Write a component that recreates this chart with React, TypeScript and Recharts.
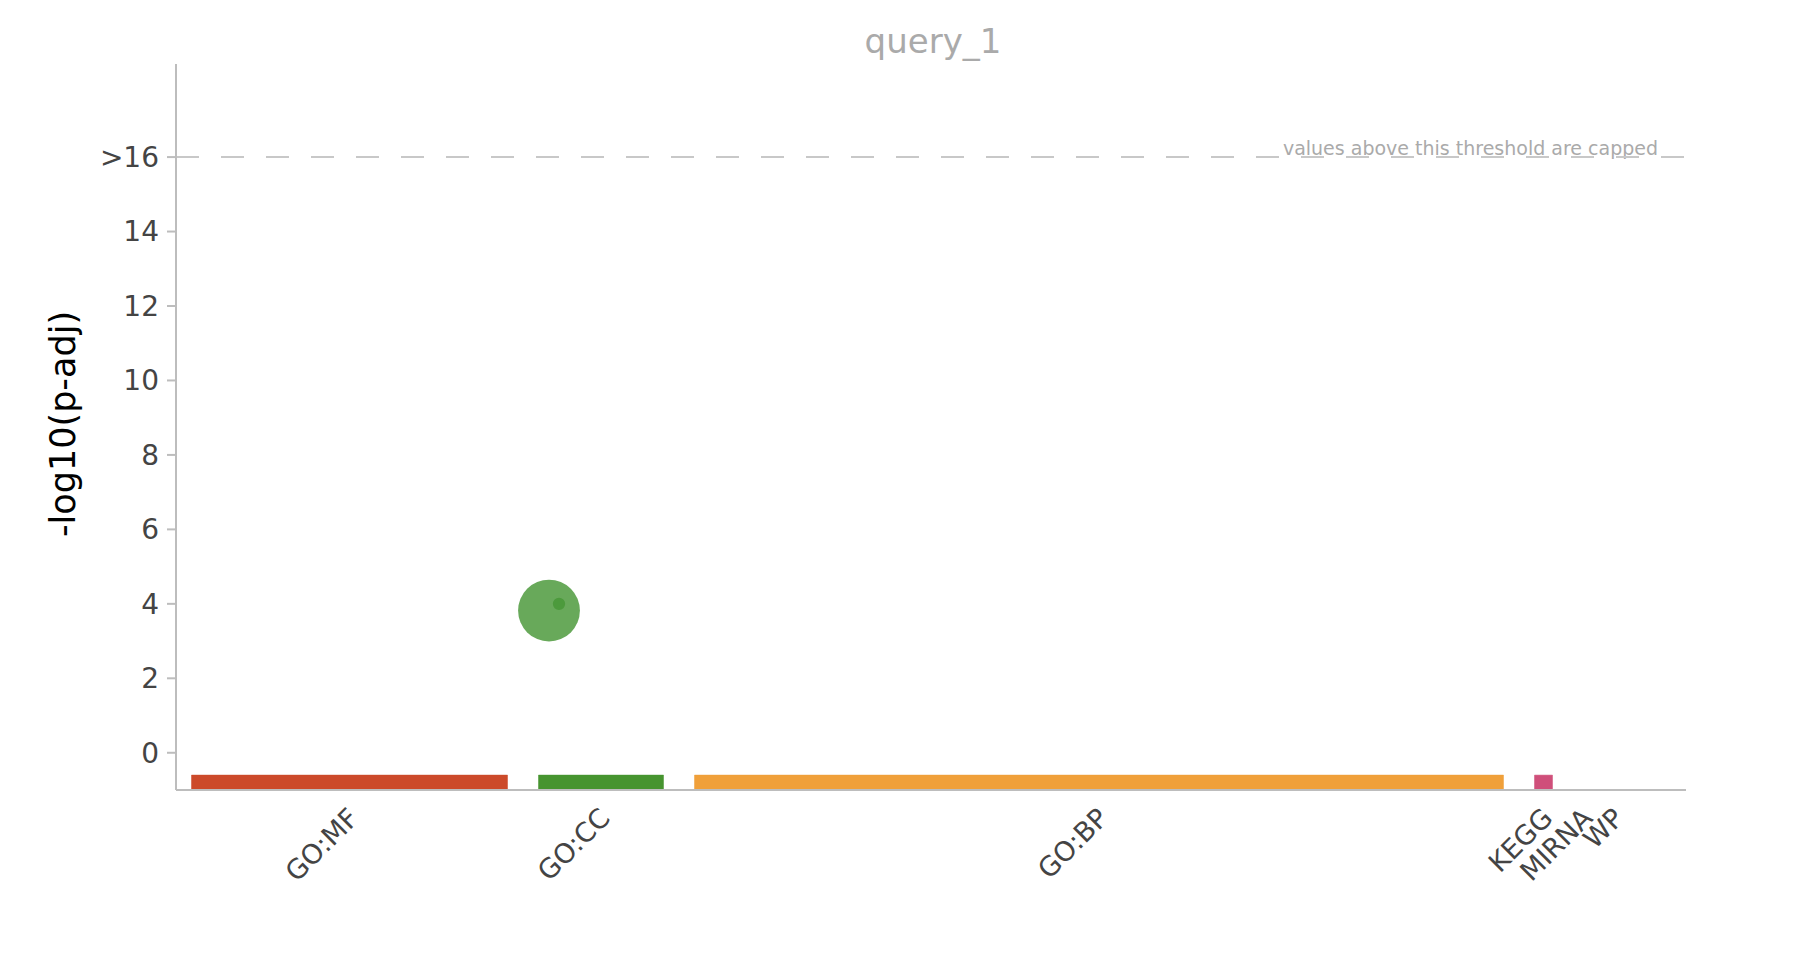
import { ComposedChart, XAxis, YAxis, ZAxis, Scatter, Cell, ReferenceArea, ReferenceLine } from 'recharts';

const FONT = '"DejaVu Sans", Verdana, sans-serif';

// data sources along the x axis (block width = scaled term count)
const sources = ['GO:MF', 'GO:CC', 'GO:BP', 'KEGG', 'MIRNA', 'WP'];
const sourceColors = ['#cc4a2a', '#46942f', '#f0a03a', '#cf4f7a', '#22aa99', '#0099c6'];
const sourceSizes = [316, 125, 809, 18, 0, 0];
const sourceGap = 31;
const xMax = 1510;

// significant terms
const termX = [373, 383];
const termP = [3.82, 4.0];
const termSizes = [2400, 20];
const termColors = ['#68a95a', '#4c9a3c'];

const yTicks = [0, 2, 4, 6, 8, 10, 12, 14, 16];
const capValue = 16;

let cursor = sourceGap / 2;
const blocks = sources.map((name, i) => {
  const x1 = cursor;
  const x2 = cursor + sourceSizes[i];
  cursor = x2 + sourceGap;
  return { name, x1, x2, center: (x1 + x2) / 2, color: sourceColors[i], size: sourceSizes[i] };
});

const points = termX.map((x, i) => ({ x, y: termP[i], size: termSizes[i] }));

const SourceTick = ({ x, y, payload }: any) => {
  const b = blocks.find(bb => bb.center === payload.value);
  return (
    <g transform={`translate(${x + 4},${y})`}>
      <text transform="rotate(-45)" textAnchor="end" dy="0.35em" fill="#444" fontSize={27} fontFamily={FONT}>
        {b ? b.name : ''}
      </text>
    </g>
  );
};

const YTitle = ({ viewBox }: any) => {
  const cy = viewBox.y + viewBox.height / 2 - 3;
  return (
    <text x={63} y={cy} transform={`rotate(-90, 63, ${cy})`} textAnchor="middle" dominantBaseline="central"
      fill="#000" fontSize={35} fontFamily={FONT}>
      -log10(p-adj)
    </text>
  );
};

const CapLabel = ({ viewBox }: any) => (
  <text x={viewBox.x + viewBox.width - 28} y={viewBox.y - 2} textAnchor="end" fill="#aaa" fontSize={19} fontFamily={FONT}>
    values above this threshold are capped
  </text>
);

export default function App() {
  return (
    <div style={{ position: 'absolute', left: 0, top: 0, width: 1812, height: 972, background: '#fff' }}>
      <div style={{ position: 'absolute', left: 178, width: 1510, top: 21, textAlign: 'center', color: '#aaa', fontSize: 34, fontFamily: FONT }}>
        query_1
      </div>
      <ComposedChart width={1812} height={972} margin={{ top: 64, right: 126, bottom: 82, left: 0 }}>
        <XAxis type="number" dataKey="x" domain={[0, xMax]} ticks={blocks.map(b => b.center)} interval={0}
          tick={<SourceTick />} tickLine={false} tickSize={0} tickMargin={23} height={100}
          axisLine={{ stroke: '#bdbdbd', strokeWidth: 2 }} allowDataOverflow />
        <YAxis type="number" dataKey="y" domain={[-1, 18.5]} ticks={yTicks} interval={0} width={176}
          tickFormatter={(v: number) => (v === capValue ? '>16' : String(v))}
          tick={{ fill: '#444', fontSize: 28, fontFamily: FONT }} tickSize={9} tickMargin={8}
          tickLine={{ stroke: '#bdbdbd', strokeWidth: 2 }} axisLine={{ stroke: '#bdbdbd', strokeWidth: 2 }}
          label={<YTitle />} allowDataOverflow />
        <ZAxis type="number" dataKey="size" range={[95, 3000]} />
        {blocks.filter(b => b.size > 0).map(b => (
          <ReferenceArea key={b.name} x1={b.x1} x2={b.x2} y1={-1} y2={-0.6} fill={b.color} fillOpacity={1}
            stroke={b.color} strokeOpacity={0.5} strokeWidth={1} />
        ))}
        <ReferenceLine y={capValue} stroke="none" label={<CapLabel />} />
        <ReferenceLine y={capValue} stroke="#c8c8c8" strokeWidth={2} strokeDasharray="23 22" />
        <Scatter data={points} isAnimationActive={false}>
          {points.map((p, i) => (
            <Cell key={i} fill={termColors[i]} />
          ))}
        </Scatter>
      </ComposedChart>
    </div>
  );
}
